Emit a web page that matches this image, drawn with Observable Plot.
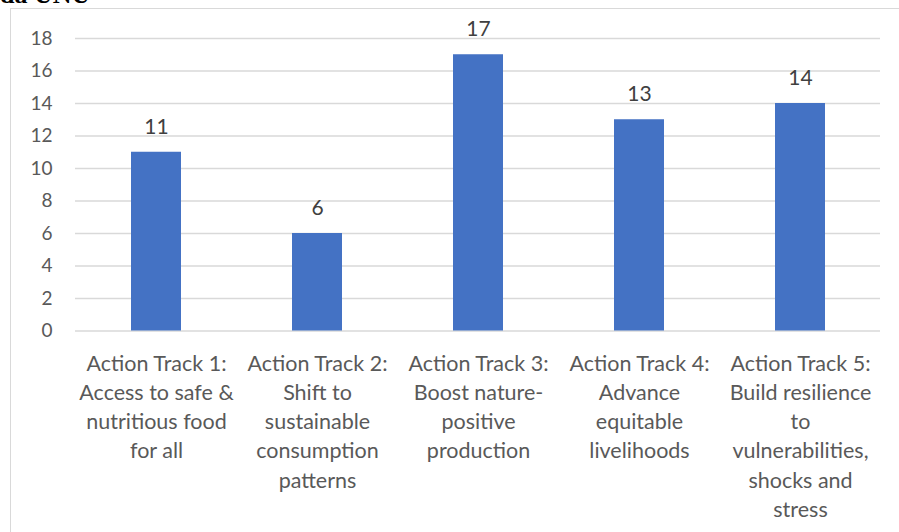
<!DOCTYPE html>
<html>
<head>
<meta charset="utf-8">
<script src="https://cdn.jsdelivr.net/npm/d3@7"></script>
<script src="https://cdn.jsdelivr.net/npm/@observablehq/plot@0.6"></script>
<style>
  html, body { margin: 0; padding: 0; background: #fff; overflow: hidden; width: 899px; height: 532px; }
  #clip { position: absolute; left: 0; top: 0; width: 899px; height: 532px; overflow: hidden; }
  #heading { position: absolute; left: 0px; top: -20px; font-family: "Liberation Serif", serif; font-weight: bold; font-size: 26px; color: #000; white-space: nowrap; }
  #frame { position: absolute; left: 10px; top: 8px; width: 1000px; height: 1000px; border: 1.5px solid #d9d9d9; box-sizing: border-box; }
  #chart { position: absolute; left: 0; top: 0; }
</style>
</head>
<body>
<div id="clip">
  <div id="heading">da UNU</div>
  <div id="frame"></div>
  <div id="chart"></div>
</div>
<script>
const categories = [
  "Action Track 1:\nAccess to safe &\nnutritious food\nfor all",
  "Action Track 2:\nShift to\nsustainable\nconsumption\npatterns",
  "Action Track 3:\nBoost nature-\npositive\nproduction",
  "Action Track 4:\nAdvance\nequitable\nlivelihoods",
  "Action Track 5:\nBuild resilience\nto\nvulnerabilities,\nshocks and\nstress"
];
const values = [11, 6, 17, 13, 14];
const yTicks = [0, 2, 4, 6, 8, 10, 12, 14, 16, 18];

const data = categories.map((c, i) => ({category: c, value: values[i]}));

const chart = Plot.plot({
  width: 899,
  height: 532,
  marginLeft: 75,
  marginRight: 19,
  marginTop: 38,
  marginBottom: 201.5,
  style: { background: "transparent", fontFamily: "Lato, sans-serif" },
  x: { domain: categories, paddingInner: 0.69, paddingOuter: 0.345, axis: null },
  y: { domain: [0, 18], axis: null },
  marks: [
    Plot.ruleY(yTicks, { stroke: "#d9d9d9", strokeWidth: 1.3 }),
    Plot.barY(data, { x: "category", y: "value", fill: "#4472c4" }),
    Plot.text(yTicks, { y: d => d, text: d => String(d), frameAnchor: "left", textAnchor: "end", dx: -23, fontSize: 19, fill: "#595959" }),
    Plot.text(data, { x: "category", y: "value", text: d => String(d.value), dy: -25, fontSize: 21, fill: "#404040" }),
    Plot.text(data, { x: "category", y: () => 0, text: "category", lineAnchor: "top", dy: 19, lineHeight: 1.36, fontSize: 21.5, fill: "#595959" })
  ]
});
document.getElementById("chart").appendChild(chart);
</script>
</body>
</html>
